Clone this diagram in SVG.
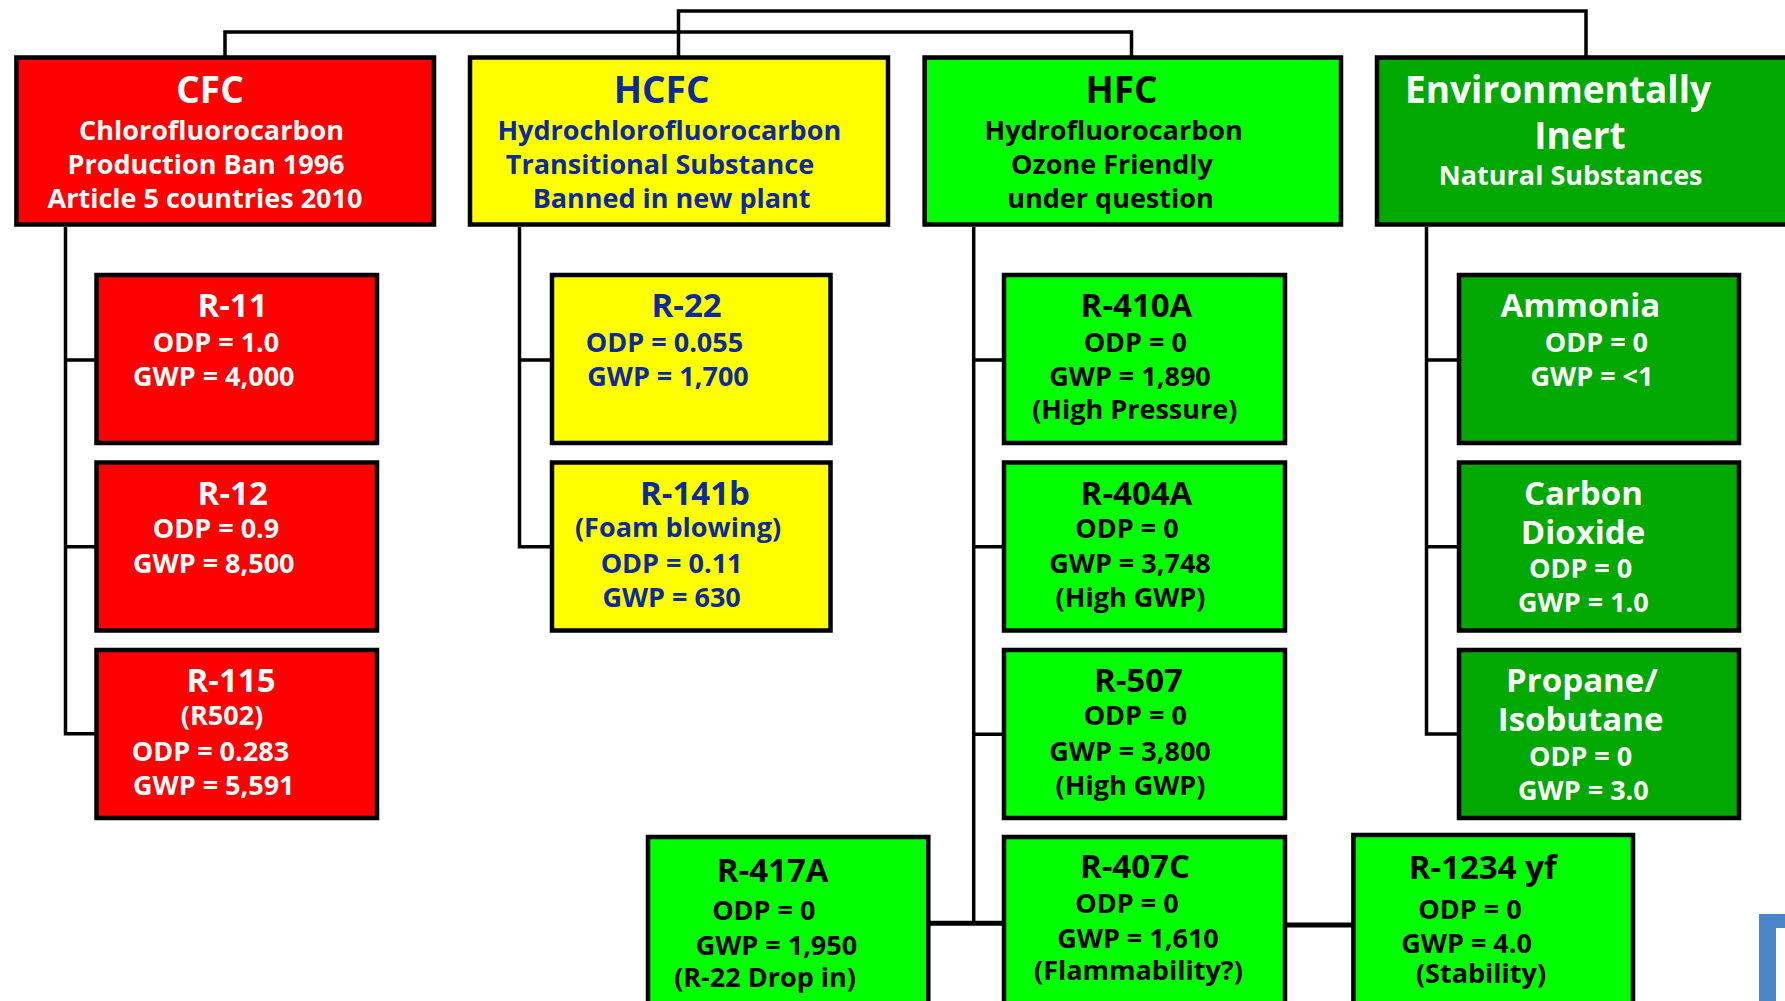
<svg xmlns="http://www.w3.org/2000/svg" width="1785" height="1001" viewBox="0 0 1785 1001">
<style>
.box{stroke:#000;stroke-width:4.5}
.red{fill:#FF0000}.yel{fill:#FFFF00}.grn{fill:#00FF00}.dgr{fill:#00A800}
text{font-family:"Open Sans","Liberation Sans",sans-serif;font-weight:700;text-anchor:middle}
.h{font-size:37px}.s{font-size:27px}.c{font-size:33px}
.w{fill:#fff}.b{fill:#0C2A9E}.k{fill:#000}
.ln{fill:none;stroke:#000;stroke-width:3.5}
.lb{fill:none;stroke:#000;stroke-width:5}
</style>
<rect width="1785" height="1001" fill="#fff"/>
<g id="connectors">
<path class="ln" d="M225,57 V32 H1131.5 V57"/>
<path class="ln" d="M678.5,57 V11 H1586 V57"/>
<path class="ln" d="M65.5,227 V733.7 H96 M65.5,360 H96 M65.5,546.7 H96"/>
<path class="ln" d="M519.5,227 V546.7 H552 M519.5,360 H552"/>
<path class="ln" d="M973.7,227 V923 M973.7,360 H1004 M973.7,546.7 H1004 M973.7,734.3 H1004"/>
<path class="lb" d="M930,923.3 H1004"/>
<path class="lb" d="M1287,925 H1357"/>
<path class="ln" d="M1426.5,227 V734 H1459 M1426.5,360 H1459 M1426.5,546.7 H1459"/>
</g>
<g id="cfc"><rect class="box red" x="16.4" y="57.5" width="417.6" height="167"/>
<text class="h w" x="210" y="103">CFC</text>
<text class="s w" x="211.5" y="140">Chlorofluorocarbon</text>
<text class="s w" x="206" y="174">Production Ban 1996</text>
<text class="s w" x="205" y="208">Article 5 countries 2010</text></g>
<g id="hcfc"><rect class="box yel" x="470" y="57.5" width="418" height="167"/>
<text class="h b" x="661.6" y="103">HCFC</text>
<text class="s b" x="669.3" y="140">Hydrochlorofluorocarbon</text>
<text class="s b" x="660" y="174">Transitional Substance</text>
<text class="s b" x="671.6" y="208">Banned in new plant</text></g>
<g id="hfc"><rect class="box grn" x="924.6" y="57.5" width="416.4" height="167"/>
<text class="h k" x="1121.5" y="103">HFC</text>
<text class="s k" x="1113.6" y="140">Hydrofluorocarbon</text>
<text class="s k" x="1112" y="174">Ozone Friendly</text>
<text class="s k" x="1110.5" y="208">under question</text></g>
<g id="inert"><rect class="box dgr" x="1377" y="57.5" width="418" height="167"/>
<text class="h w" x="1558" y="103">Environmentally</text>
<text class="h w" x="1580" y="149">Inert</text>
<text class="s w" x="1570.7" y="185">Natural Substances</text></g>

<g id="r11"><rect class="box red" x="96.5" y="275" width="280.5" height="168"/>
<text class="c w" x="232.5" y="317">R-11</text>
<text class="s w" x="216" y="351.7">ODP = 1.0</text>
<text class="s w" x="213.8" y="385.7">GWP = 4,000</text></g>
<g id="r12"><rect class="box red" x="96.5" y="462.5" width="280.5" height="168"/>
<text class="c w" x="232.7" y="505">R-12</text>
<text class="s w" x="216" y="538.3">ODP = 0.9</text>
<text class="s w" x="213.8" y="573.3">GWP = 8,500</text></g>
<g id="r115"><rect class="box red" x="96.5" y="650" width="280.5" height="168"/>
<text class="c w" x="231" y="691.7">R-115</text>
<text class="s w" x="222" y="725">(R502)</text>
<text class="s w" x="210.4" y="760.7">ODP = 0.283</text>
<text class="s w" x="213.8" y="795">GWP = 5,591</text></g>

<g id="r22"><rect class="box yel" x="552" y="275" width="278.5" height="168"/>
<text class="c b" x="686.6" y="317">R-22</text>
<text class="s b" x="664.5" y="351.7">ODP = 0.055</text>
<text class="s b" x="668" y="385.7">GWP = 1,700</text></g>
<g id="r141b"><rect class="box yel" x="552" y="462.5" width="278.5" height="168"/>
<text class="c b" x="695" y="505">R-141b</text>
<text class="s b" x="678" y="536.7">(Foam blowing)</text>
<text class="s b" x="671.6" y="573.3">ODP = 0.11</text>
<text class="s b" x="671.6" y="606.7">GWP = 630</text></g>

<g id="r410a"><rect class="box grn" x="1004" y="275" width="281" height="168"/>
<text class="c k" x="1136.5" y="317">R-410A</text>
<text class="s k" x="1135.3" y="351.7">ODP = 0</text>
<text class="s k" x="1130" y="385.7">GWP = 1,890</text>
<text class="s k" x="1134.8" y="419.3">(High Pressure)</text></g>
<g id="r404a"><rect class="box grn" x="1004" y="462.5" width="281" height="168"/>
<text class="c k" x="1136.5" y="505">R-404A</text>
<text class="s k" x="1127" y="538.3">ODP = 0</text>
<text class="s k" x="1130" y="573.3">GWP = 3,748</text>
<text class="s k" x="1130.5" y="606.7">(High GWP)</text></g>
<g id="r507"><rect class="box grn" x="1004" y="650" width="281" height="168"/>
<text class="c k" x="1138.4" y="691.7">R-507</text>
<text class="s k" x="1135.3" y="725">ODP = 0</text>
<text class="s k" x="1130" y="760.7">GWP = 3,800</text>
<text class="s k" x="1130.5" y="795">(High GWP)</text></g>
<g id="r407c"><rect class="box grn" x="1004" y="837" width="281" height="180"/>
<text class="c k" x="1135" y="878.3">R-407C</text>
<text class="s k" x="1127" y="912.7">ODP = 0</text>
<text class="s k" x="1138" y="947.7">GWP = 1,610</text>
<text class="s k" x="1138.4" y="980">(Flammability?)</text></g>
<g id="r417a"><rect class="box grn" x="648" y="837" width="280.3" height="180"/>
<text class="c k" x="772.7" y="881.7">R-417A</text>
<text class="s k" x="763.8" y="920">ODP = 0</text>
<text class="s k" x="776.4" y="955">GWP = 1,950</text>
<text class="s k" x="765" y="986.7">(R-22 Drop in)</text></g>
<g id="r1234yf"><rect class="box grn" x="1353.4" y="835" width="279.6" height="182"/>
<text class="c k" x="1482.7" y="879.3">R-1234 yf</text>
<text class="s k" x="1470" y="919.3">ODP = 0</text>
<text class="s k" x="1466.6" y="953.3">GWP = 4.0</text>
<text class="s k" x="1481" y="983.3">(Stability)</text></g>

<g id="ammonia"><rect class="box dgr" x="1459" y="275" width="280" height="168"/>
<text class="c w" x="1580.3" y="317">Ammonia</text>
<text class="s w" x="1596.4" y="351.7">ODP = 0</text>
<text class="s w" x="1592" y="385.7">GWP = &lt;1</text></g>
<g id="co2"><rect class="box dgr" x="1459" y="462.5" width="280" height="168"/>
<text class="c w" x="1583.4" y="505">Carbon</text>
<text class="c w" x="1583" y="544">Dioxide</text>
<text class="s w" x="1580.6" y="577.7">ODP = 0</text>
<text class="s w" x="1583.4" y="612.3">GWP = 1.0</text></g>
<g id="propane"><rect class="box dgr" x="1459" y="650" width="280" height="168"/>
<text class="c w" x="1582" y="691.7">Propane/</text>
<text class="c w" x="1580.6" y="731">Isobutane</text>
<text class="s w" x="1580.6" y="765.7">ODP = 0</text>
<text class="s w" x="1583.4" y="800">GWP = 3.0</text></g>

<g id="frame"><rect x="1759" y="914" width="60" height="120" fill="#4A86C8"/>
<rect x="1776" y="928" width="60" height="120" fill="#fff"/></g>
</svg>
